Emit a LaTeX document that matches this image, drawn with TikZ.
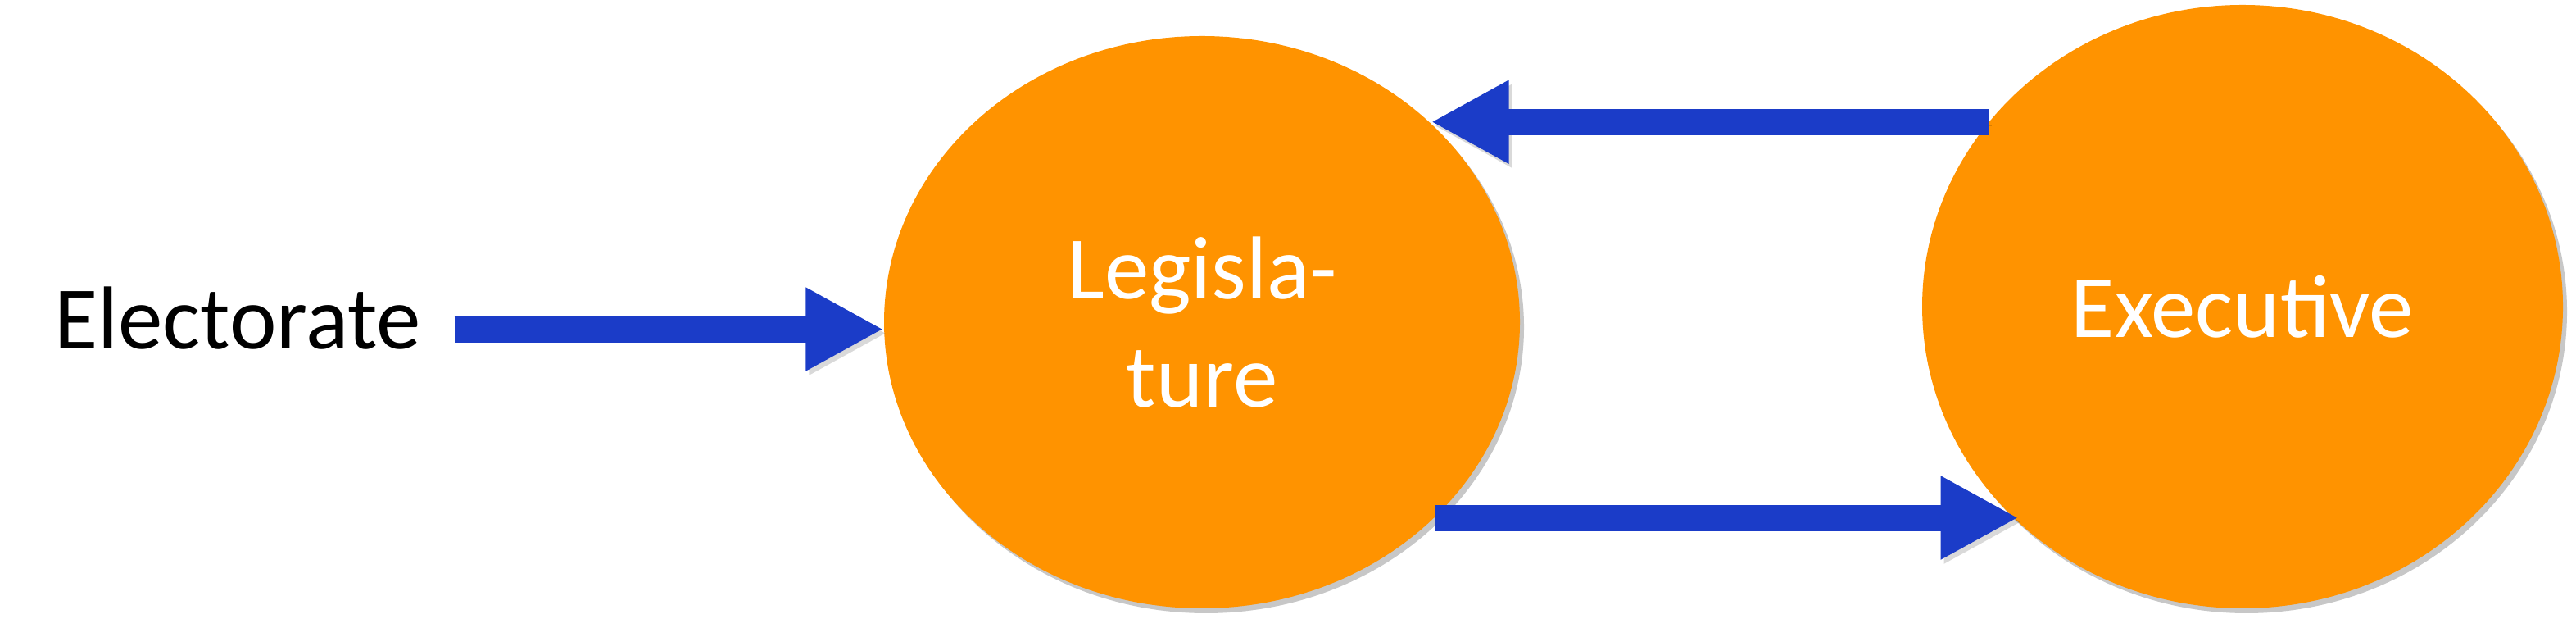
\documentclass[tikz,border=0pt]{standalone}
\usepackage{fontspec}
\setmainfont{Carlito}
\usepackage{xcolor}
\usepackage{tikz}
\usetikzlibrary{positioning,calc,arrows.meta,shapes.geometric,shadows}

\definecolor{govorange}{RGB}{255,147,0}
\definecolor{flowblue}{RGB}{27,60,200}

\begin{document}
\begin{tikzpicture}[
  every node/.style={font=\fontsize{31}{37.5}\selectfont},
  body/.style={ellipse,fill=govorange,text=white,align=center,inner sep=0pt,
    drop shadow={shadow xshift=0.05cm,shadow yshift=-0.06cm,opacity=0.22,fill=black}},
  flow/.style={-{Triangle[width=0.95cm,length=0.95cm]},line width=0.32cm,draw=flowblue,
    preaction={draw=black,opacity=0.15,transform canvas={shift={(0.04,-0.05)}}}}]
\useasboundingbox[fill=white] (0,0) rectangle (31.44,7.66);
\node[body,minimum width=7.76cm,minimum height=6.98cm] (legis) at (14.67,3.73) {Legisla-\\ture};
\node[body,minimum width=7.82cm,minimum height=7.36cm] (exec) at (27.37,3.92) {Executive};
\node[anchor=base,inner xsep=0.4cm] (elect) at (2.90,3.40) {Electorate};
\draw[flow] ([yshift=-1.3mm]elect.east) -- ([yshift=-1.3mm]elect.east -| legis.west);
\draw[flow] (exec.144) -- (exec.144 -| legis.41);
\draw[flow] (legis.320) -- (legis.320 -| exec.224);
\end{tikzpicture}
\end{document}
